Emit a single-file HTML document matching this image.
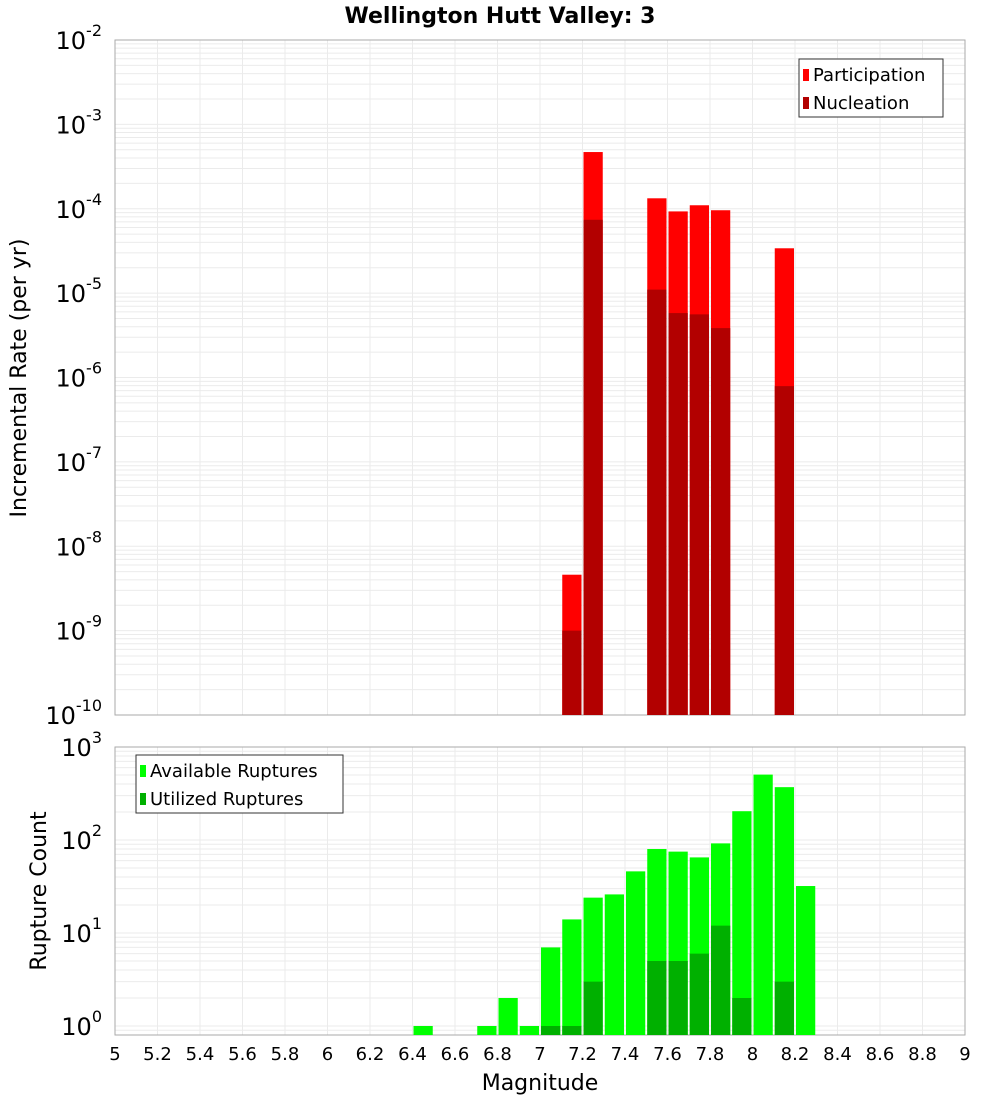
<!DOCTYPE html>
<html><head><meta charset="utf-8"><style>
body{margin:0;background:#fff}
svg text{font-family:"DejaVu Sans","Liberation Sans",sans-serif}
</style></head><body>
<svg id="c" width="1000" height="1100" xmlns="http://www.w3.org/2000/svg">
<text x="500" y="23" text-anchor="middle" font-size="22" font-weight="bold">Wellington Hutt Valley: 3</text>
<g id="top"></g>
<g id="bot"></g>
<text x="540" y="1090" text-anchor="middle" font-size="22">Magnitude</text>
<text transform="translate(26,378) rotate(-90)" text-anchor="middle" font-size="22">Incremental Rate (per yr)</text>
<text transform="translate(46,891) rotate(-90)" text-anchor="middle" font-size="22">Rupture Count</text>
</svg>
<script>
const rateMags=[7.1,7.2,7.5,7.6,7.7,7.8,8.1];
const participation=[4.6e-9,4.7e-4,1.33e-4,9.3e-5,1.1e-4,9.6e-5,3.4e-5];
const nucleation=[1e-9,7.4e-5,1.1e-5,5.8e-6,5.6e-6,3.85e-6,7.9e-7];
const countMags=[6.4,6.7,6.8,6.9,7.0,7.1,7.2,7.3,7.4,7.5,7.6,7.7,7.8,7.9,8.0,8.1,8.2];
const available=[1,1,2,1,7,14,24,26,46,80,75,65,92,204,505,370,32];
const utilMags=[7.0,7.1,7.2,7.5,7.6,7.7,7.8,7.9,8.1];
const utilized=[1,1,3,5,5,6,12,2,3];
const xTicks=[5,5.2,5.4,5.6,5.8,6,6.2,6.4,6.6,6.8,7,7.2,7.4,7.6,7.8,8,8.2,8.4,8.6,8.8,9];

const NS="http://www.w3.org/2000/svg";
const X0=115,X1=965;
const xs=m=>X0+(m-5)/4*(X1-X0);
function mk(p,tag,at){const e=document.createElementNS(NS,tag);for(const k in at)e.setAttribute(k,at[k]);p.appendChild(e);return e;}
const TT=40,TB=715;
const yT=v=>TT+(-2-Math.log10(v))*(TB-TT)/8;
const BT=747,BB=1035;
const yB=v=>1026-Math.log10(v)*93;

function grid(g,t0,b0,yf,dmin,dmax){
  for(let d=dmin;d<dmax;d++)for(let k=1;k<10;k++){
    const y=yf(k*Math.pow(10,d));if(y<t0||y>b0)continue;
    const l=mk(g,'line',{x1:X0,x2:X1,y1:y,y2:y,stroke:'#ebebeb','stroke-width':1});
    
    
  }
  xTicks.forEach(t=>{const l=mk(g,'line',{x1:xs(t),x2:xs(t),y1:t0,y2:b0,stroke:'#ebebeb'});
    
    });
  const r=mk(g,'rect',{x:X0,y:t0,width:X1-X0,height:b0-t0,fill:'none',stroke:'#aaa'});
  
  
}
function bars(g,mags,vals,yf,base,color,name){
  mags.forEach((m,i)=>{
    const x=xs(m)+1,w=xs(m+0.1)-xs(m)-2,y=yf(vals[i]);
    const r=mk(g,'rect',{x:x,y:y,width:w,height:base-y,fill:color});
    
    
  });
}
function ylab(g,exp,y){
  const t=mk(g,'text',{x:102,y:y+9,'text-anchor':'end','font-size':24});
  t.textContent='10';
  const s=mk(t,'tspan',{dy:-13,'font-size':16});s.textContent=exp;
  
  
}
function legend(g,x,y,w,items){
  const r=mk(g,'rect',{x:x,y:y,width:w,height:58,fill:'#fff',stroke:'#333'});
  
  
  items.forEach((it,i)=>{
    const sw=mk(g,'rect',{x:x+4,y:y+10+i*28,width:6,height:12,fill:it[1]});
    
    
    const t=mk(g,'text',{x:x+14,y:y+22+i*28,'font-size':18});t.textContent=it[0];
    
    
  });
}
const topG=document.getElementById('top'),botG=document.getElementById('bot');
grid(topG,TT,TB,yT,-10,-2);
bars(topG,rateMags,participation,yT,TB,'#ff0000','participation-bar');
bars(topG,rateMags,nucleation,yT,TB,'#b20000','nucleation-bar');
for(let e=-2;e>=-10;e--)ylab(topG,String(e),yT(Math.pow(10,e)));
legend(topG,799,59,144,[['Participation','#ff0000'],['Nucleation','#b20000']]);

grid(botG,BT,BB,yB,-1,3);
bars(botG,countMags,available,yB,BB,'#00ff00','available-bar');
bars(botG,utilMags,utilized,yB,BB,'#00b000','utilized-bar');
for(let e=0;e<=3;e++)ylab(botG,String(e),yB(Math.pow(10,e)));
legend(botG,136,755,207,[['Available Ruptures','#00ff00'],['Utilized Ruptures','#00b000']]);
xTicks.forEach(t=>{
  const tx=mk(botG,'text',{x:xs(t),y:1060,'text-anchor':'middle','font-size':18});
  tx.textContent=String(t);
  
  
});
</script>
</body></html>
